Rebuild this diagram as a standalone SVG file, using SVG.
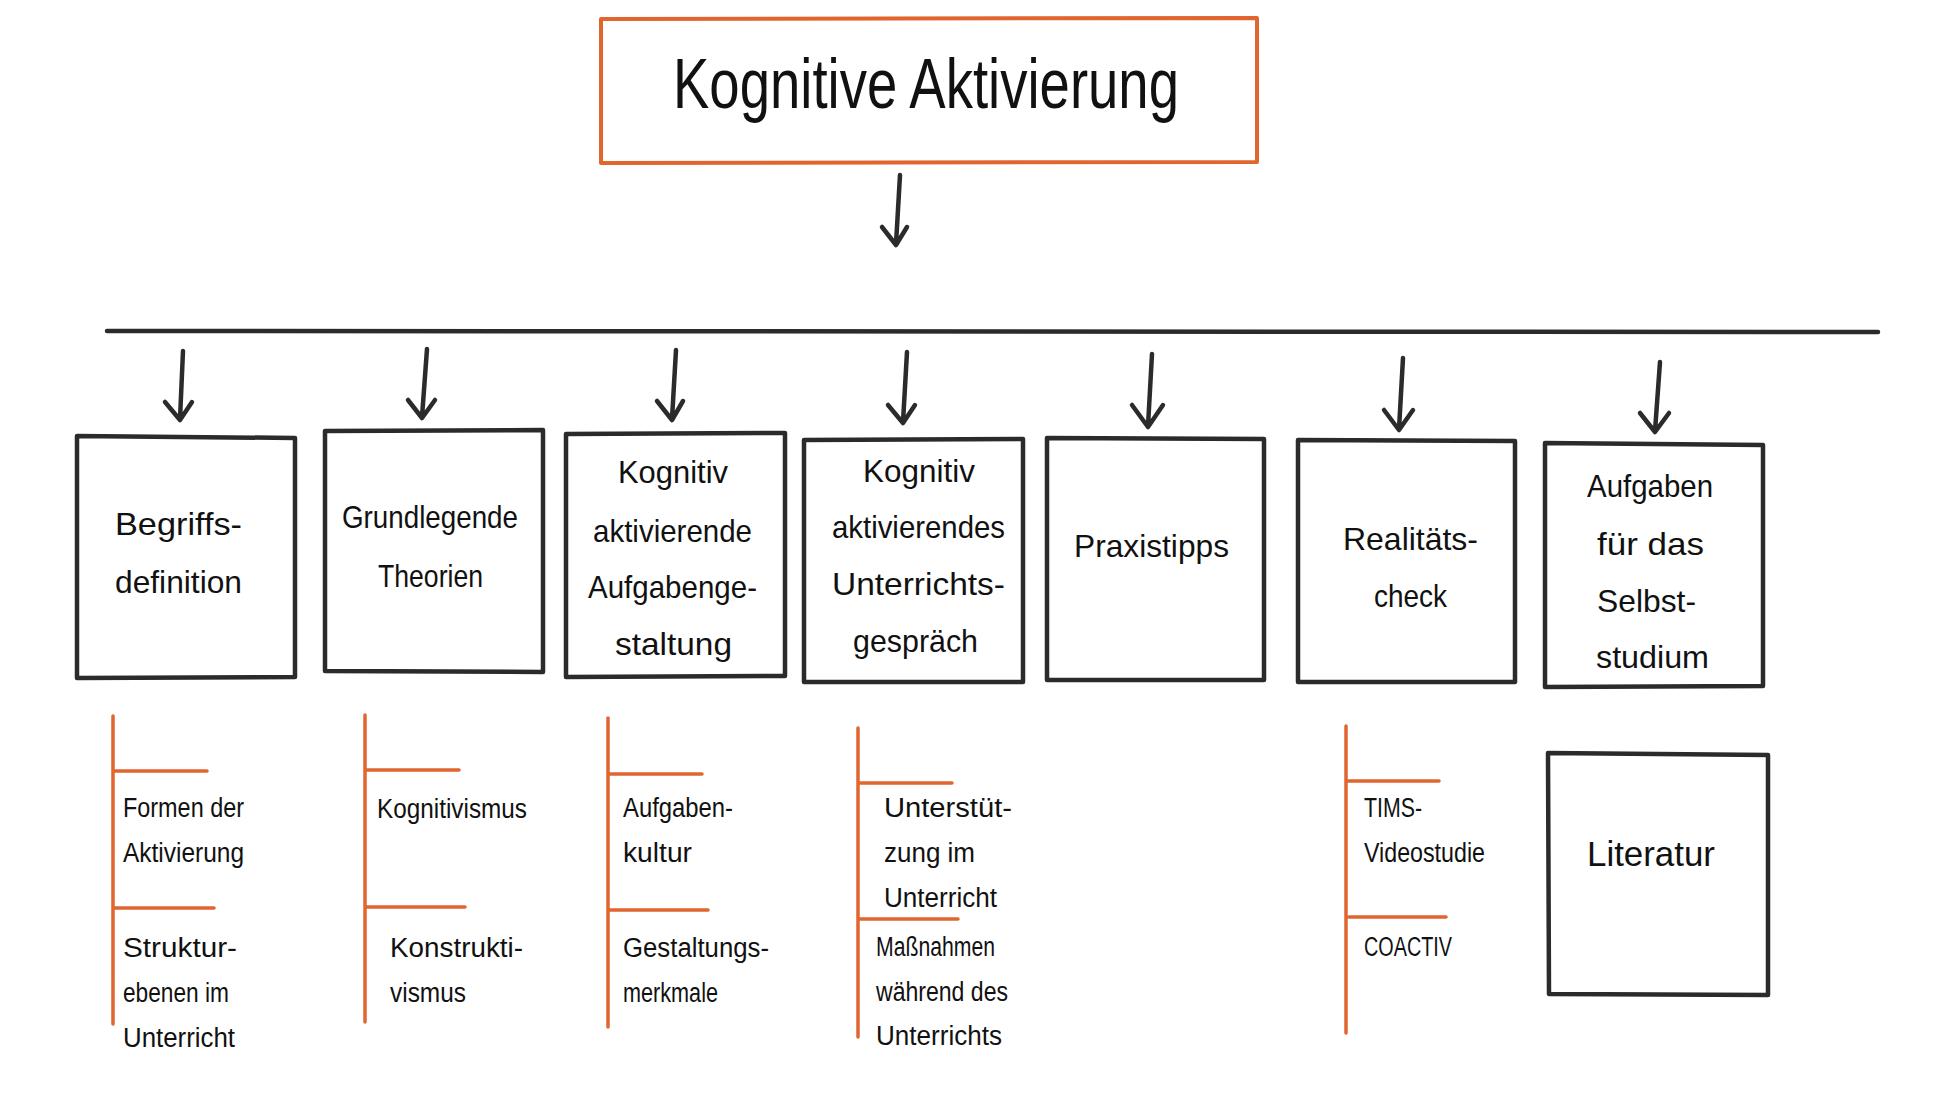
<svg xmlns="http://www.w3.org/2000/svg" width="1940" height="1119" viewBox="0 0 1940 1119">
<style>
  .box{fill:#fff;stroke:#2b2b2b;stroke-width:4.5;stroke-linejoin:round}
  .title{fill:#fff;stroke:#e0652f;stroke-width:4;stroke-linejoin:round}
  .arr{fill:none;stroke:#2b2b2b;stroke-width:4.5;stroke-linecap:round;stroke-linejoin:round}
  .or{fill:none;stroke:#e0652f;stroke-width:3.5;stroke-linecap:round}
  text{font-family:"Liberation Sans","DejaVu Sans",sans-serif;fill:#111}
  .t{font-size:32px}
  .s{font-size:27px}
</style>
<rect width="1940" height="1119" fill="#fff"/>

<g id="title">
  <path class="title" d="M601 19 L1257 18 L1257 162 L601 163 Z"/>
  <text x="673" y="108" font-size="70" textLength="506" lengthAdjust="spacingAndGlyphs">Kognitive Aktivierung</text>
</g>

<g id="connectors">
  <path class="arr" d="M900 175 L896 244 M882 227 L896 245 L907 227"/>
  <path d="M107 331 L1878 332" fill="none" stroke="#2b2b2b" stroke-width="4.5" stroke-linecap="round"/>
  <path class="arr" d="M183 351 L180 419 M165 402 L180 420 L192 402"/>
  <path class="arr" d="M427 349 L422 417 M408 400 L422 418 L435 400"/>
  <path class="arr" d="M676 350 L672 419 M657 401 L672 420 L683 401"/>
  <path class="arr" d="M907 352 L903 422 M888 405 L903 423 L915 405"/>
  <path class="arr" d="M1152 354 L1148 426 M1132 405 L1148 427 L1163 405"/>
  <path class="arr" d="M1403 358 L1399 429 M1384 410 L1399 430 L1413 410"/>
  <path class="arr" d="M1660 362 L1655 431 M1640 413 L1655 432 L1669 413"/>
</g>

<g id="n1">
  <path class="box" d="M77 436 L295 438 L295 677 L77 678 Z"/>
  <text class="t" x="115" y="535" textLength="127" lengthAdjust="spacingAndGlyphs">Begriffs-</text>
  <text class="t" x="115" y="593" textLength="127" lengthAdjust="spacingAndGlyphs">definition</text>
</g>
<g id="n2">
  <path class="box" d="M325 431 L543 430 L543 672 L325 671 Z"/>
  <text class="t" x="342" y="528" textLength="176" lengthAdjust="spacingAndGlyphs">Grundlegende</text>
  <text class="t" x="378" y="587" textLength="105" lengthAdjust="spacingAndGlyphs">Theorien</text>
</g>
<g id="n3">
  <path class="box" d="M566 434 L785 433 L785 676 L566 677 Z"/>
  <text class="t" x="618" y="483" textLength="110" lengthAdjust="spacingAndGlyphs">Kognitiv</text>
  <text class="t" x="593" y="542" textLength="159" lengthAdjust="spacingAndGlyphs">aktivierende</text>
  <text class="t" x="588" y="598" textLength="169" lengthAdjust="spacingAndGlyphs">Aufgabenge-</text>
  <text class="t" x="615" y="655" textLength="117" lengthAdjust="spacingAndGlyphs">staltung</text>
</g>
<g id="n4">
  <path class="box" d="M804 440 L1023 439 L1023 682 L804 682 Z"/>
  <text class="t" x="863" y="482" textLength="112" lengthAdjust="spacingAndGlyphs">Kognitiv</text>
  <text class="t" x="832" y="538" textLength="173" lengthAdjust="spacingAndGlyphs">aktivierendes</text>
  <text class="t" x="832" y="595" textLength="173" lengthAdjust="spacingAndGlyphs">Unterrichts-</text>
  <text class="t" x="853" y="652" textLength="125" lengthAdjust="spacingAndGlyphs">gespräch</text>
</g>
<g id="n5">
  <path class="box" d="M1047 438 L1264 439 L1264 680 L1047 680 Z"/>
  <text class="t" x="1074" y="557" textLength="155" lengthAdjust="spacingAndGlyphs">Praxistipps</text>
</g>
<g id="n6">
  <path class="box" d="M1298 440 L1515 441 L1515 682 L1298 682 Z"/>
  <text class="t" x="1343" y="550" textLength="135" lengthAdjust="spacingAndGlyphs">Realitäts-</text>
  <text class="t" x="1374" y="607" textLength="73" lengthAdjust="spacingAndGlyphs">check</text>
</g>
<g id="n7">
  <path class="box" d="M1545 443 L1763 445 L1763 686 L1545 687 Z"/>
  <text class="t" x="1587" y="497" textLength="126" lengthAdjust="spacingAndGlyphs">Aufgaben</text>
  <text class="t" x="1597" y="555" textLength="107" lengthAdjust="spacingAndGlyphs">für das</text>
  <text class="t" x="1597" y="612" textLength="99" lengthAdjust="spacingAndGlyphs">Selbst-</text>
  <text class="t" x="1596" y="668" textLength="113" lengthAdjust="spacingAndGlyphs">studium</text>
</g>
<g id="n8">
  <path class="box" d="M1548 753 L1768 755 L1768 995 L1549 994 Z"/>
  <text x="1587" y="866" font-size="35" textLength="128" lengthAdjust="spacingAndGlyphs">Literatur</text>
</g>

<g id="sub1">
  <path class="or" d="M113 716 L113 1024 M113 771 L207 771 M114 908 L214 908"/>
  <text class="s" x="123" y="817" textLength="121" lengthAdjust="spacingAndGlyphs">Formen der</text>
  <text class="s" x="123" y="862" textLength="121" lengthAdjust="spacingAndGlyphs">Aktivierung</text>
  <text class="s" x="123" y="957" textLength="114" lengthAdjust="spacingAndGlyphs">Struktur-</text>
  <text class="s" x="123" y="1002" textLength="106" lengthAdjust="spacingAndGlyphs">ebenen im</text>
  <text class="s" x="123" y="1047" textLength="112" lengthAdjust="spacingAndGlyphs">Unterricht</text>
</g>
<g id="sub2">
  <path class="or" d="M365 715 L365 1022 M365 770 L459 770 M367 907 L465 907"/>
  <text class="s" x="377" y="818" textLength="150" lengthAdjust="spacingAndGlyphs">Kognitivismus</text>
  <text class="s" x="390" y="957" textLength="133" lengthAdjust="spacingAndGlyphs">Konstrukti-</text>
  <text class="s" x="390" y="1002" textLength="76" lengthAdjust="spacingAndGlyphs">vismus</text>
</g>
<g id="sub3">
  <path class="or" d="M608 718 L608 1027 M608 774 L702 774 M610 910 L708 910"/>
  <text class="s" x="623" y="817" textLength="110" lengthAdjust="spacingAndGlyphs">Aufgaben-</text>
  <text class="s" x="623" y="862" textLength="69" lengthAdjust="spacingAndGlyphs">kultur</text>
  <text class="s" x="623" y="957" textLength="146" lengthAdjust="spacingAndGlyphs">Gestaltungs-</text>
  <text class="s" x="623" y="1002" textLength="95" lengthAdjust="spacingAndGlyphs">merkmale</text>
</g>
<g id="sub4">
  <path class="or" d="M858 728 L858 1037 M858 783 L952 783 M860 919 L958 919"/>
  <text class="s" x="884" y="817" textLength="128" lengthAdjust="spacingAndGlyphs">Unterstüt-</text>
  <text class="s" x="884" y="862" textLength="91" lengthAdjust="spacingAndGlyphs">zung im</text>
  <text class="s" x="884" y="907" textLength="113" lengthAdjust="spacingAndGlyphs">Unterricht</text>
  <text class="s" x="876" y="956" textLength="119" lengthAdjust="spacingAndGlyphs">Maßnahmen</text>
  <text class="s" x="876" y="1001" textLength="132" lengthAdjust="spacingAndGlyphs">während des</text>
  <text class="s" x="876" y="1045" textLength="126" lengthAdjust="spacingAndGlyphs">Unterrichts</text>
</g>
<g id="sub6">
  <path class="or" d="M1346 726 L1346 1033 M1346 781 L1439 781 M1349 917 L1446 917"/>
  <text class="s" x="1364" y="817" textLength="58" lengthAdjust="spacingAndGlyphs">TIMS-</text>
  <text class="s" x="1364" y="862" textLength="121" lengthAdjust="spacingAndGlyphs">Videostudie</text>
  <text class="s" x="1364" y="956" textLength="88" lengthAdjust="spacingAndGlyphs">COACTIV</text>
</g>
</svg>
